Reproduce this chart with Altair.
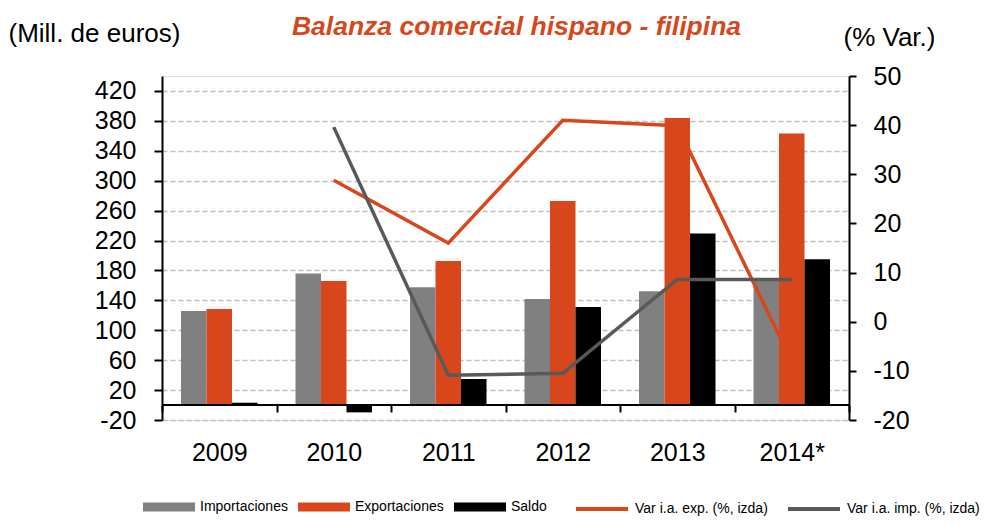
import altair as alt
import pandas as pd

years = ["2009", "2010", "2011", "2012", "2013", "2014*"]
importaciones = [125.7, 176.0, 157.4, 141.7, 152.0, 167.0]
exportaciones = [128.3, 165.8, 192.5, 272.7, 384.0, 363.0]
saldo = [3.1, -9.8, 34.8, 131.0, 229.5, 194.8]
var_exp = [None, 28.8, 16.0, 41.0, 39.9, -8.1]
var_imp = [None, 39.6, -10.9, -10.5, 8.6, 8.6]

bar_series = ["Importaciones", "Exportaciones", "Saldo"]
bar_colors = ["#808080", "#D8461B", "#000000"]
line_series = ["Var i.a. exp. (%, izda)", "Var i.a. imp. (%, izda)"]
line_colors = ["#D8461B", "#595959"]
left_ticks = [-20, 20, 60, 100, 140, 180, 220, 260, 300, 340, 380, 420]
right_ticks = [-20, -10, 0, 10, 20, 30, 40, 50]

FONT = "Liberation Sans"

bar_rows = []
for name, vals in zip(bar_series, [importaciones, exportaciones, saldo]):
    for y, v in zip(years, vals):
        bar_rows.append({"year": y, "serie": name, "valor": v})
bar_df = pd.DataFrame(bar_rows)

line_rows = []
for name, vals in zip(line_series, [var_exp, var_imp]):
    for y, v in zip(years, vals):
        if v is not None:
            line_rows.append({"year": y, "serie": name, "valor": v})
line_df = pd.DataFrame(line_rows)

x_scale = alt.Scale(domain=years, paddingInner=0, paddingOuter=0)
x_axis = alt.Axis(title=None, orient="bottom", domain=False, ticks=True,
                  tickBand="extent", tickSize=7, tickWidth=2, tickColor="black",
                  labelFontSize=25, labelFont=FONT, labelPadding=28, labelAngle=0,
                  labelColor="black", offset=-15, grid=False)

left_axis = alt.Axis(title="(Mill. de euros)", titleAngle=0, titleX=-154, titleY=-43,
                     titleAlign="left", titleBaseline="middle", titleFontSize=26,
                     titleFontWeight="normal", titleFont=FONT, titleColor="black",
                     values=left_ticks, tickCount=len(left_ticks), grid=True,
                     gridDash=[5, 3], gridColor="#BFBFBF",
                     gridWidth=1.5, domainColor="black", domainWidth=2, tickColor="black",
                     tickWidth=2, tickSize=8, labelFontSize=25, labelFont=FONT,
                     labelPadding=18, labelColor="black", labelOverlap=False,
                     labelExpr="'' + datum.value")

right_axis = alt.Axis(title="(% Var.)", orient="right", titleAngle=0, titleX=-6, titleY=-39,
                      titleAlign="left", titleBaseline="middle", titleFontSize=26,
                      titleFontWeight="normal", titleFont=FONT, titleColor="black",
                      values=right_ticks, tickCount=len(right_ticks), grid=False,
                      domainColor="black", domainWidth=2,
                      tickColor="black", tickWidth=2, tickSize=7, labelFontSize=25,
                      labelFont=FONT, labelPadding=17, labelColor="black", labelOverlap=False,
                      labelExpr="'' + datum.value")

bars = alt.Chart(bar_df).mark_bar().encode(
    x=alt.X("year:N", sort=years, scale=x_scale, axis=x_axis),
    xOffset=alt.XOffset("serie:N", sort=bar_series,
                        scale=alt.Scale(domain=bar_series, paddingInner=0, paddingOuter=0.745)),
    y=alt.Y("valor:Q", scale=alt.Scale(domain=[-20, 440], nice=False, zero=False), axis=left_axis),
    color=alt.Color("serie:N", sort=bar_series,
                    scale=alt.Scale(domain=bar_series, range=bar_colors),
                    legend=alt.Legend(title=None, orient="none", legendX=-19, legendY=405,
                                      direction="horizontal",
                                      symbolType="M-1,-0.17L1,-0.17L1,0.17L-1,0.17Z",
                                      symbolSize=2704, symbolStrokeWidth=0,
                                      labelFontSize=14, labelFont=FONT, labelOffset=5,
                                      columnPadding=10, labelColor="black")),
)

zero_df = pd.DataFrame({"valor": [0]})
zero_rule = alt.Chart(zero_df).mark_rule(color="black", strokeWidth=2).encode(
    y=alt.Y("valor:Q")
)

lines = alt.Chart(line_df).mark_line(strokeWidth=3.5).encode(
    x=alt.X("year:N", sort=years, scale=x_scale, axis=x_axis),
    y=alt.Y("valor:Q", scale=alt.Scale(domain=[-20, 50], nice=False, zero=False), axis=right_axis),
    stroke=alt.Stroke("serie:N", sort=line_series,
                      scale=alt.Scale(domain=line_series, range=line_colors),
                      legend=alt.Legend(title=None, orient="none", legendX=412, legendY=405,
                                        direction="horizontal", symbolType="stroke",
                                        symbolSize=2704, symbolStrokeWidth=4,
                                        labelFontSize=14, labelFont=FONT, labelOffset=5,
                                        columnPadding=12, labelColor="black")),
)

chart = alt.layer(alt.layer(bars, zero_rule), lines).resolve_scale(y="independent").properties(
    width=687, height=344,
    autosize=alt.AutoSizeParams(type="none"),
    padding={"left": 154, "top": 68, "right": 141, "bottom": 97},
    title=alt.TitleParams("Balanza comercial hispano - filipina", fontSize=26.5, fontStyle="italic",
                          fontWeight="bold", color="#D8461B", font=FONT, anchor="middle",
                          dx=11, offset=-20, frame="group"),
).configure_view(stroke=None).configure(font=FONT)

chart.save("out.html", embed_options={"renderer": "svg", "actions": False})
